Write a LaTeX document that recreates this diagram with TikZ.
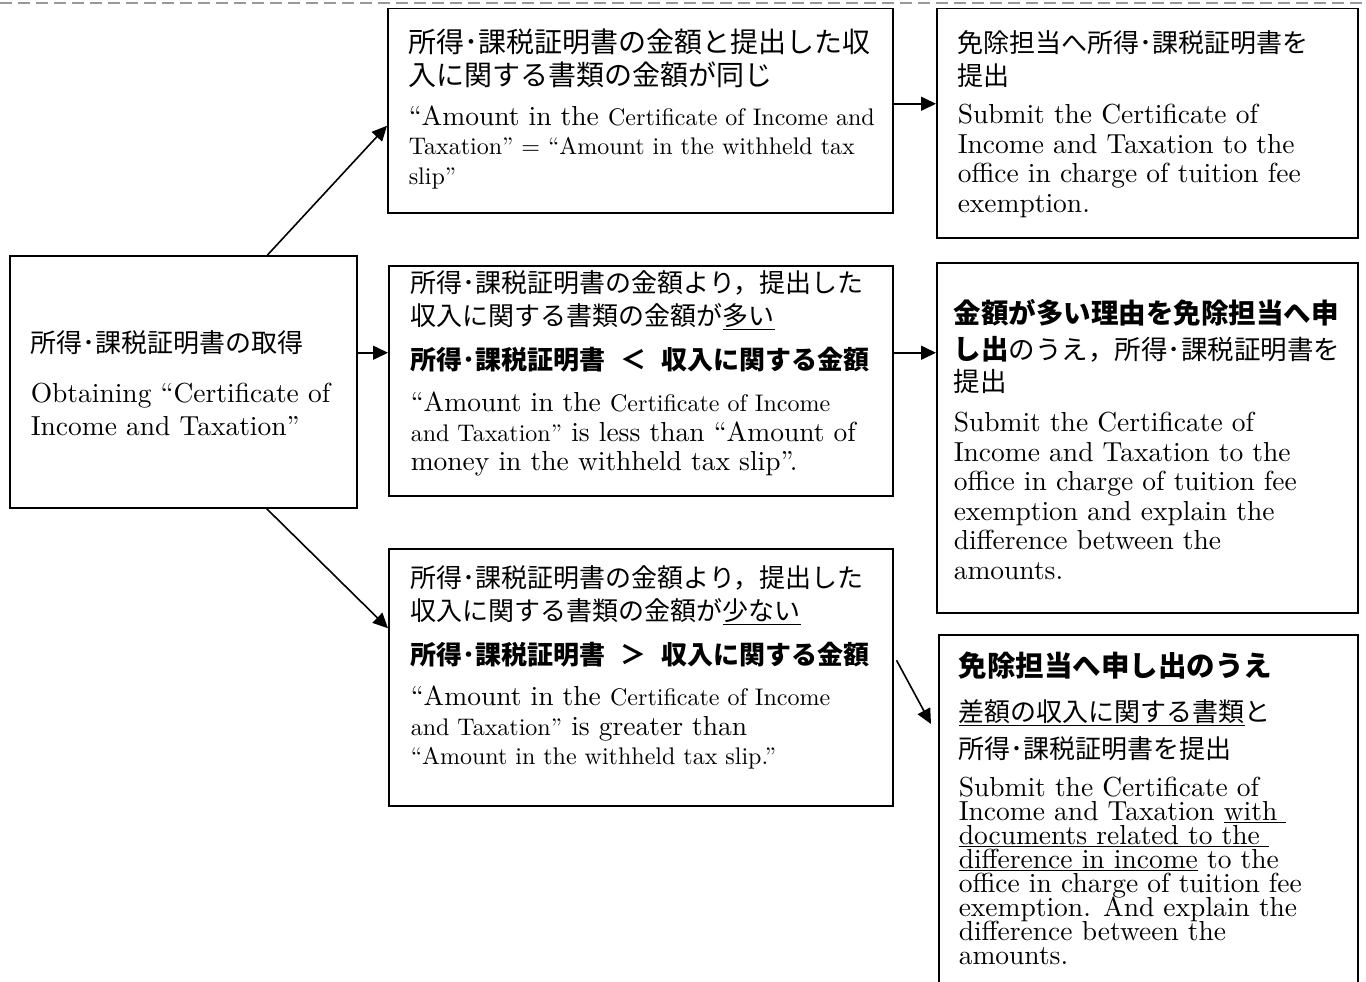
\documentclass[tikz,border=0pt]{standalone}
\usepackage{fontspec}
\usepackage{tikz}
\usetikzlibrary{arrows.meta}
\setmainfont{lmroman10-regular.otf}
\newfontfamily\jp{Noto Sans CJK JP}
\newcommand{\jpn}[1][26]{\normalfont\jp\fontsize{#1}{33}\selectfont}
\newcommand{\jpb}[1][26]{\jpn[#1]\bfseries}
\newcommand{\eng}{\normalfont\fontsize{27.5}{29.5}\selectfont}
\newcommand{\enf}{\normalfont\fontsize{27.5}{24}\selectfont}
\newcommand{\enl}{\normalfont\fontsize{27.5}{33}\selectfont}
\newcommand{\sm}[1]{{\fontsize{24}{29.5}\selectfont #1}}
\newcommand{\cell}[4]{\parbox[c][#2][t]{#1}{\raggedright\setlength{\leftskip}{#3}\lineskiplimit=-100pt\hbadness=10000 #4}}

\begin{document}
\begin{tikzpicture}[x=1pt,y=-1pt,>={Triangle[length=15pt,width=14pt]},
    box/.style={draw,line width=1.5pt,anchor=north west,inner sep=0pt},
    link/.style={->,line width=1.6pt}]
    \clip (0,0) rectangle (1366,982);
    \draw[gray!80,line width=1.2pt,dash pattern=on 12pt off 6pt] (0,3) -- (1366,3);
    \node[box] (obtain) at (9,255) {\cell{347pt}{252pt}{21pt}{%
        \vspace*{73.9pt}\jpn\strut 所得･課税証明書の取得\\[17pt]
        \enl Obtaining “Certificate of\\
        Income and Taxation”}};
    \node[box] (equal) at (387,8) {\cell{505pt}{204pt}{21pt}{%
        \vspace*{20pt}\jpn[28]\strut 所得･課税証明書の金額と提出した収\\
        入に関する書類の金額が同じ\\[10.5pt]
        \eng “Amount in the \sm{Certificate of Income and}\\
        \sm{Taxation” = “Amount in the withheld tax}\\
        \sm{slip”}}};
    \node[box] (more) at (388,265) {\cell{504pt}{230pt}{22pt}{%
        \vspace*{3.9pt}\jpn\strut 所得･課税証明書の金額より，提出した\\
        収入に関する書類の金額が\underline{多い}\\[11pt]
        \jpb 所得･課税証明書\hspace{15pt}＜\hspace{15pt}収入に関する金額\\[12.5pt]
        \eng “Amount in the \sm{Certificate of Income}\\
        \sm{and Taxation”} is less than “Amount of\\
        money in the withheld tax slip”.}};
    \node[box] (less) at (388,548) {\cell{504pt}{257pt}{22pt}{%
        \vspace*{15.9pt}\jpn\strut 所得･課税証明書の金額より，提出した\\
        収入に関する書類の金額が\underline{少ない}\\[11pt]
        \jpb 所得･課税証明書\hspace{15pt}＞\hspace{15pt}収入に関する金額\\[11.5pt]
        \eng “Amount in the \sm{Certificate of Income}\\
        \sm{and Taxation”} is greater than\\
        \sm{“Amount in the withheld tax slip.”}}};
    \node[box] (sub1) at (936,8) {\cell{421pt}{229pt}{21pt}{%
        \vspace*{20.9pt}\jpn\strut 免除担当へ所得･課税証明書を\\
        提出\\[8.5pt]
        \eng Submit the Certificate of\\
        Income and Taxation to the\\
        office in charge of tuition fee\\
        exemption.}};
    \node[box] (sub2) at (936,262) {\cell{421pt}{350pt}{17pt}{%
        \vspace*{36.9pt}\jpb[27.5]\strut 金額が多い理由を免除担当へ申\\[3pt]
        し出\jpn[26.5]のうえ，所得･課税証明書を\\[-1pt]
        提出\\[10.5pt]
        \eng Submit the Certificate of\\
        Income and Taxation to the\\
        office in charge of tuition fee\\
        exemption and explain the\\
        difference between the\\
        amounts.}};
    \node[box] (sub3) at (938,634) {\cell{419pt}{366pt}{20pt}{%
        \vspace*{16.9pt}\jpb[28.5]\strut 免除担当へ申し出のうえ\\[12pt]
        \jpn\underline{差額の収入に関する書類}と\\[4pt]
        所得･課税証明書を提出\\[14pt]
        \enf Submit the Certificate of\\
        Income and Taxation \underline{with\ }\\
        \underline{documents related to the\ }\\
        \underline{difference in income} to the\\
        office in charge of tuition fee\\
        exemption. And explain the\\
        difference between the\\
        amounts.}};
    \coordinate (om) at ([yshift=29pt]obtain.east);
    \coordinate (es) at ([yshift=7pt]equal.east);
    \coordinate (ms) at ([yshift=28pt]more.east);
    \path[link]
        ([xshift=-90pt]obtain.north east) edge ([yshift=-15pt]equal.west)
        (om) edge (om -| more.west)
        ([xshift=-91pt]obtain.south east) edge ([yshift=49pt]less.west)
        (es) edge (es -| sub1.west)
        (ms) edge (ms -| sub2.west)
        ([shift={(3pt,17pt)}]less.east) edge ([shift={(-7pt,-90pt)}]sub3.north west);
\end{tikzpicture}
\end{document}
